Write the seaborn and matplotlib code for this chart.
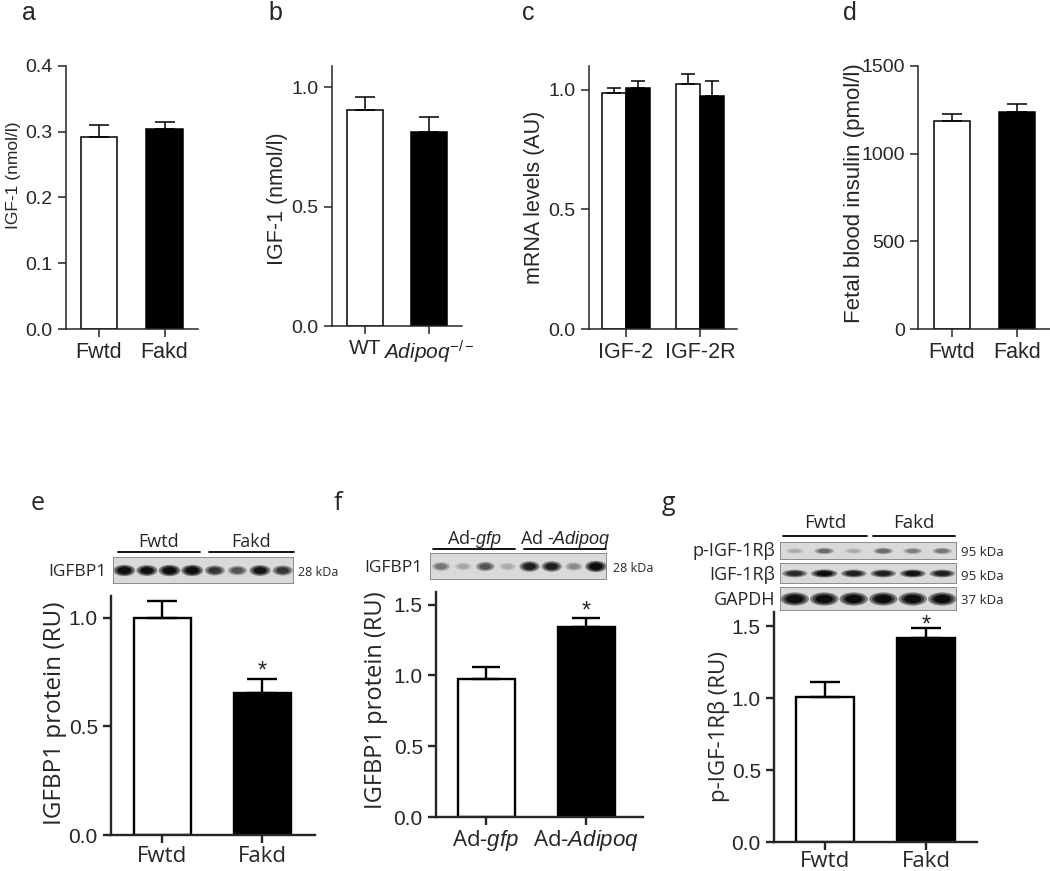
import numpy as np
import pandas as pd
import matplotlib
matplotlib.use('Agg')
import matplotlib.pyplot as plt
import seaborn as sns
from matplotlib.patches import Rectangle, Ellipse
from matplotlib.lines import Line2D

# ---- data ----
a_groups = ['Fwtd', 'Fakd']
a_mean = [0.292, 0.304]
a_sem = [0.018, 0.011]

b_groups = ['WT', 'Adipoq-/-']
b_labels = ['WT', r'$\mathit{Adipoq}^{-/-}$']
b_mean = [0.907, 0.815]
b_sem = [0.055, 0.063]

c_genes = ['IGF-2', 'IGF-2R']
c_wt_mean = [0.987, 1.024]
c_wt_sem = [0.023, 0.042]
c_ko_mean = [1.007, 0.976]
c_ko_sem = [0.031, 0.062]

d_groups = ['Fwtd', 'Fakd']
d_mean = [1184, 1236]
d_sem = [44, 47]

e_groups = ['Fwtd', 'Fakd']
e_mean = [1.0, 0.654]
e_sem = [0.078, 0.063]

f_groups = ['Ad-gfp', 'Ad-Adipoq']
f_labels = [r'Ad-$\mathit{gfp}$', r'Ad-$\mathit{Adipoq}$']
f_mean = [0.977, 1.34]
f_sem = [0.085, 0.068]

g_groups = ['Fwtd', 'Fakd']
g_mean = [1.007, 1.417]
g_sem = [0.104, 0.069]

# band intensities of the blots (0 = empty, 1 = darkest)
e_blot = [1.0, 0.92, 1.0, 1.0, 0.75, 0.6, 0.9, 0.75]
f_blot = [0.45, 0.22, 0.6, 0.2, 0.85, 0.85, 0.35, 1.0]
g_blot_p = [0.2, 0.5, 0.2, 0.5, 0.4, 0.45]
g_blot_total = [0.8, 0.95, 0.85, 0.85, 0.9, 0.85]
g_blot_gapdh = [1.0, 1.0, 1.0, 1.0, 1.0, 1.0]

sns.set_style('ticks')
plt.rcParams['font.family'] = ['Liberation Sans', 'DejaVu Sans']
plt.rcParams['mathtext.fontset'] = 'custom'
plt.rcParams['mathtext.it'] = 'Liberation Sans:italic'
plt.rcParams['mathtext.rm'] = 'Liberation Sans'
MYR = ['Open Sans', 'DejaVu Sans']

W, H = 1050, 871
fig = plt.figure(figsize=(W / 100, H / 100), dpi=100)


def rect(l, t, r, b):
    return [l / W, 1 - b / H, (r - l) / W, (b - t) / H]


def bars(ax, groups, mean, sem, width, lw, cap):
    sns.barplot(x=groups, y=mean, hue=groups, palette=['white', 'black'],
                edgecolor='black', linewidth=lw, width=width, legend=False, ax=ax)
    ax.errorbar(range(len(mean)), mean, yerr=[np.zeros(len(mean)), sem], fmt='none',
                ecolor='black', elinewidth=lw, capsize=cap, capthick=lw, zorder=1)


def style(ax, lw, ylab, labx, laby, ylsize, tsize, xtsize, yfont=None, xfont=None, xpad=3.5):
    sns.despine(ax=ax)
    for s in ['left', 'bottom']:
        ax.spines[s].set_linewidth(lw)
    ax.tick_params(width=lw, length=6, labelsize=tsize)
    ax.tick_params(axis='x', labelsize=xtsize, pad=xpad)
    if xfont:
        for t in ax.get_xticklabels():
            t.set_family(xfont)
    ax.set_xlabel('')
    ax.set_ylabel(ylab, fontsize=ylsize, family=yfont if yfont else None)
    ax.yaxis.set_label_coords(labx, laby)


def star(ax, x, top, dy):
    ax.annotate('*', xy=(x, top), xytext=(0, dy), textcoords='offset points',
                ha='center', va='baseline', fontsize=17)


# ---- a ----
ax = fig.add_axes(rect(66, 66, 198, 329))
bars(ax, a_groups, a_mean, a_sem, 0.55, 1.1, 7.5)
ax.set_xlim(-0.5, 1.51)
ax.set_ylim(0, 0.4)
ax.set_yticks([0, 0.1, 0.2, 0.3, 0.4])
ax.yaxis.set_major_formatter('{x:.1f}')
style(ax, 1.1, 'IGF-1 (nmol/l)', -0.34, 0.585, 12.5, 14, 15.5)

# ---- b ----
ax = fig.add_axes(rect(332, 66, 462, 326))
bars(ax, b_groups, b_mean, b_sem, 0.57, 1.1, 7.5)
ax.set_xlim(-0.52, 1.52)
ax.set_ylim(0, 1.09)
ax.set_yticks([0, 0.5, 1.0])
ax.yaxis.set_major_formatter('{x:.1f}')
ax.set_xticks([0, 1], b_labels)
style(ax, 1.1, 'IGF-1 (nmol/l)', -0.34, 0.49, 15.5, 14, 15)

# ---- c ----
ax = fig.add_axes(rect(589, 66, 737, 329))
c_df = pd.DataFrame({'gene': c_genes * 2, 'group': ['wt'] * 2 + ['ko'] * 2,
                     'value': c_wt_mean + c_ko_mean})
sns.barplot(data=c_df, x='gene', y='value', hue='group', palette=['white', 'black'],
            edgecolor='black', linewidth=1.1, width=0.65, legend=False, ax=ax)
for cont, sem in zip(ax.containers, [c_wt_sem, c_ko_sem]):
    xs = [p.get_x() + p.get_width() / 2 for p in cont]
    ys = [p.get_height() for p in cont]
    ax.errorbar(xs, ys, yerr=[np.zeros(len(ys)), sem], fmt='none', ecolor='black',
                elinewidth=1.1, capsize=5, capthick=1.1, zorder=1)
ax.set_xlim(-0.5, 1.5)
ax.set_ylim(0, 1.10)
ax.set_yticks([0, 0.5, 1.0])
ax.yaxis.set_major_formatter('{x:.1f}')
style(ax, 1.1, 'mRNA levels (AU)', -0.30, 0.5, 15.5, 14, 15.5)

# ---- d ----
ax = fig.add_axes(rect(918, 66, 1050, 329))
bars(ax, d_groups, d_mean, d_sem, 0.55, 1.1, 7.5)
ax.set_xlim(-0.52, 1.51)
ax.set_ylim(0, 1500)
ax.set_yticks([0, 500, 1000, 1500])
style(ax, 1.1, 'Fetal blood insulin (pmol/l)', -0.40, 0.517, 16, 14, 15.5)

# ---- e ----
ax = fig.add_axes(rect(111, 596, 315, 835))
bars(ax, e_groups, e_mean, e_sem, 0.57, 1.7, 11)
ax.set_xlim(-0.51, 1.53)
ax.set_ylim(0, 1.10)
ax.set_yticks([0, 0.5, 1.0])
ax.yaxis.set_major_formatter('{x:.1f}')
style(ax, 1.7, 'IGFBP1 protein (RU)', -0.216, 0.51, 17.5, 15, 16, MYR, MYR, 2)
star(ax, 1, e_mean[1] + e_sem[1], 1)

# ---- f ----
ax = fig.add_axes(rect(436, 592, 643, 817))
bars(ax, f_groups, f_mean, f_sem, 0.57, 1.7, 10)
ax.set_xlim(-0.5, 1.57)
ax.set_ylim(0, 1.59)
ax.set_yticks([0, 0.5, 1.0, 1.5])
ax.yaxis.set_major_formatter('{x:.1f}')
ax.set_xticks([0, 1], f_labels)
style(ax, 1.7, 'IGFBP1 protein (RU)', -0.23, 0.52, 17, 15, 16, MYR, MYR, 2)
star(ax, 1, f_mean[1] + f_sem[1], 0)

# ---- g ----
ax = fig.add_axes(rect(774, 612, 977, 842))
bars(ax, g_groups, g_mean, g_sem, 0.57, 1.7, 11)
ax.set_xlim(-0.5, 1.5)
ax.set_ylim(0, 1.6)
ax.set_yticks([0, 0.5, 1.0, 1.5])
ax.yaxis.set_major_formatter('{x:.1f}')
style(ax, 1.7, 'p-IGF-1Rβ (RU)', -0.217, 0.50, 16, 15, 16, MYR, MYR, 0.5)
star(ax, 1, g_mean[1] + g_sem[1], -2.5)


# ---- blots ----
def blot(l, t, r, b, levels, bw, bh):
    bx = fig.add_axes(rect(l, t, r, b))
    bx.set_xlim(0, 1)
    bx.set_ylim(0, 1)
    bx.axis('off')
    bx.add_patch(Rectangle((0, 0), 1, 1, facecolor='#d9d9d9', edgecolor='#808080', lw=1.2))
    n = len(levels)
    for i, v in enumerate(levels):
        x = (i + 0.5) / n
        for k, s in enumerate([1.0, 0.8, 0.6]):
            g = 0.84 - v * (0.35 + 0.25 * k)
            bx.add_patch(Ellipse((x, 0.5), bw * s * (0.7 + 0.3 * v), bh * s * (0.55 + 0.45 * v),
                                 color=str(max(g, 0.05)), lw=0))


def ftext(x, y, s, **kw):
    fig.text(x / W, 1 - y / H, s, **kw)


def gline(x0, x1, y):
    fig.add_artist(Line2D([x0 / W, x1 / W], [1 - y / H, 1 - y / H], color='black', lw=1.3))


blot(113, 557, 294, 584, e_blot, 0.12, 0.42)
ftext(106, 572, 'IGFBP1', ha='right', va='center', fontsize=12.5, family=MYR)
ftext(298, 572, '28 kDa', ha='left', va='center', fontsize=9, family=MYR)
gline(118, 200, 552)
gline(209, 294, 552)
ftext(159, 542, 'Fwtd', ha='center', va='center', fontsize=13, family=MYR)
ftext(251, 542, 'Fakd', ha='center', va='center', fontsize=13, family=MYR)

blot(430, 553, 607, 580, f_blot, 0.12, 0.42)
ftext(423, 568, 'IGFBP1', ha='right', va='center', fontsize=12.5, family=MYR)
ftext(613, 568, '28 kDa', ha='left', va='center', fontsize=9, family=MYR)
gline(433, 515, 549)
gline(524, 606, 549)
ftext(474, 539, r'Ad-$\mathit{gfp}$', ha='center', va='center', fontsize=13, family=MYR)
ftext(565, 539, r'Ad -$\mathit{Adipoq}$', ha='center', va='center', fontsize=13, family=MYR)

blot(780, 542, 957, 560, g_blot_p, 0.13, 0.45)
blot(780, 563, 957, 584, g_blot_total, 0.15, 0.4)
blot(780, 587, 957, 611, g_blot_gapdh, 0.16, 0.55)
ftext(775, 551, 'p-IGF-1Rβ', ha='right', va='center', fontsize=13, family=MYR)
ftext(775, 575, 'IGF-1Rβ', ha='right', va='center', fontsize=13, family=MYR)
ftext(775, 600, 'GAPDH', ha='right', va='center', fontsize=13, family=MYR)
ftext(961, 552, '95 kDa', ha='left', va='center', fontsize=9.5, family=MYR)
ftext(961, 576, '95 kDa', ha='left', va='center', fontsize=9.5, family=MYR)
ftext(961, 600, '37 kDa', ha='left', va='center', fontsize=9.5, family=MYR)
gline(783, 867, 536)
gline(873, 955, 536)
ftext(825, 523, 'Fwtd', ha='center', va='center', fontsize=13.5, family=MYR)
ftext(914, 523, 'Fakd', ha='center', va='center', fontsize=13.5, family=MYR)

# ---- panel letters ----
for lab, x, y in [('a', 22, 20), ('b', 268, 20), ('c', 522, 20), ('d', 843, 20),
                  ('e', 31, 510), ('f', 334, 510), ('g', 662, 510)]:
    ftext(x, y, lab, ha='left', va='baseline', fontsize=18,
          family=MYR if lab in 'efg' else None)

fig.savefig('out.png', dpi=100)
